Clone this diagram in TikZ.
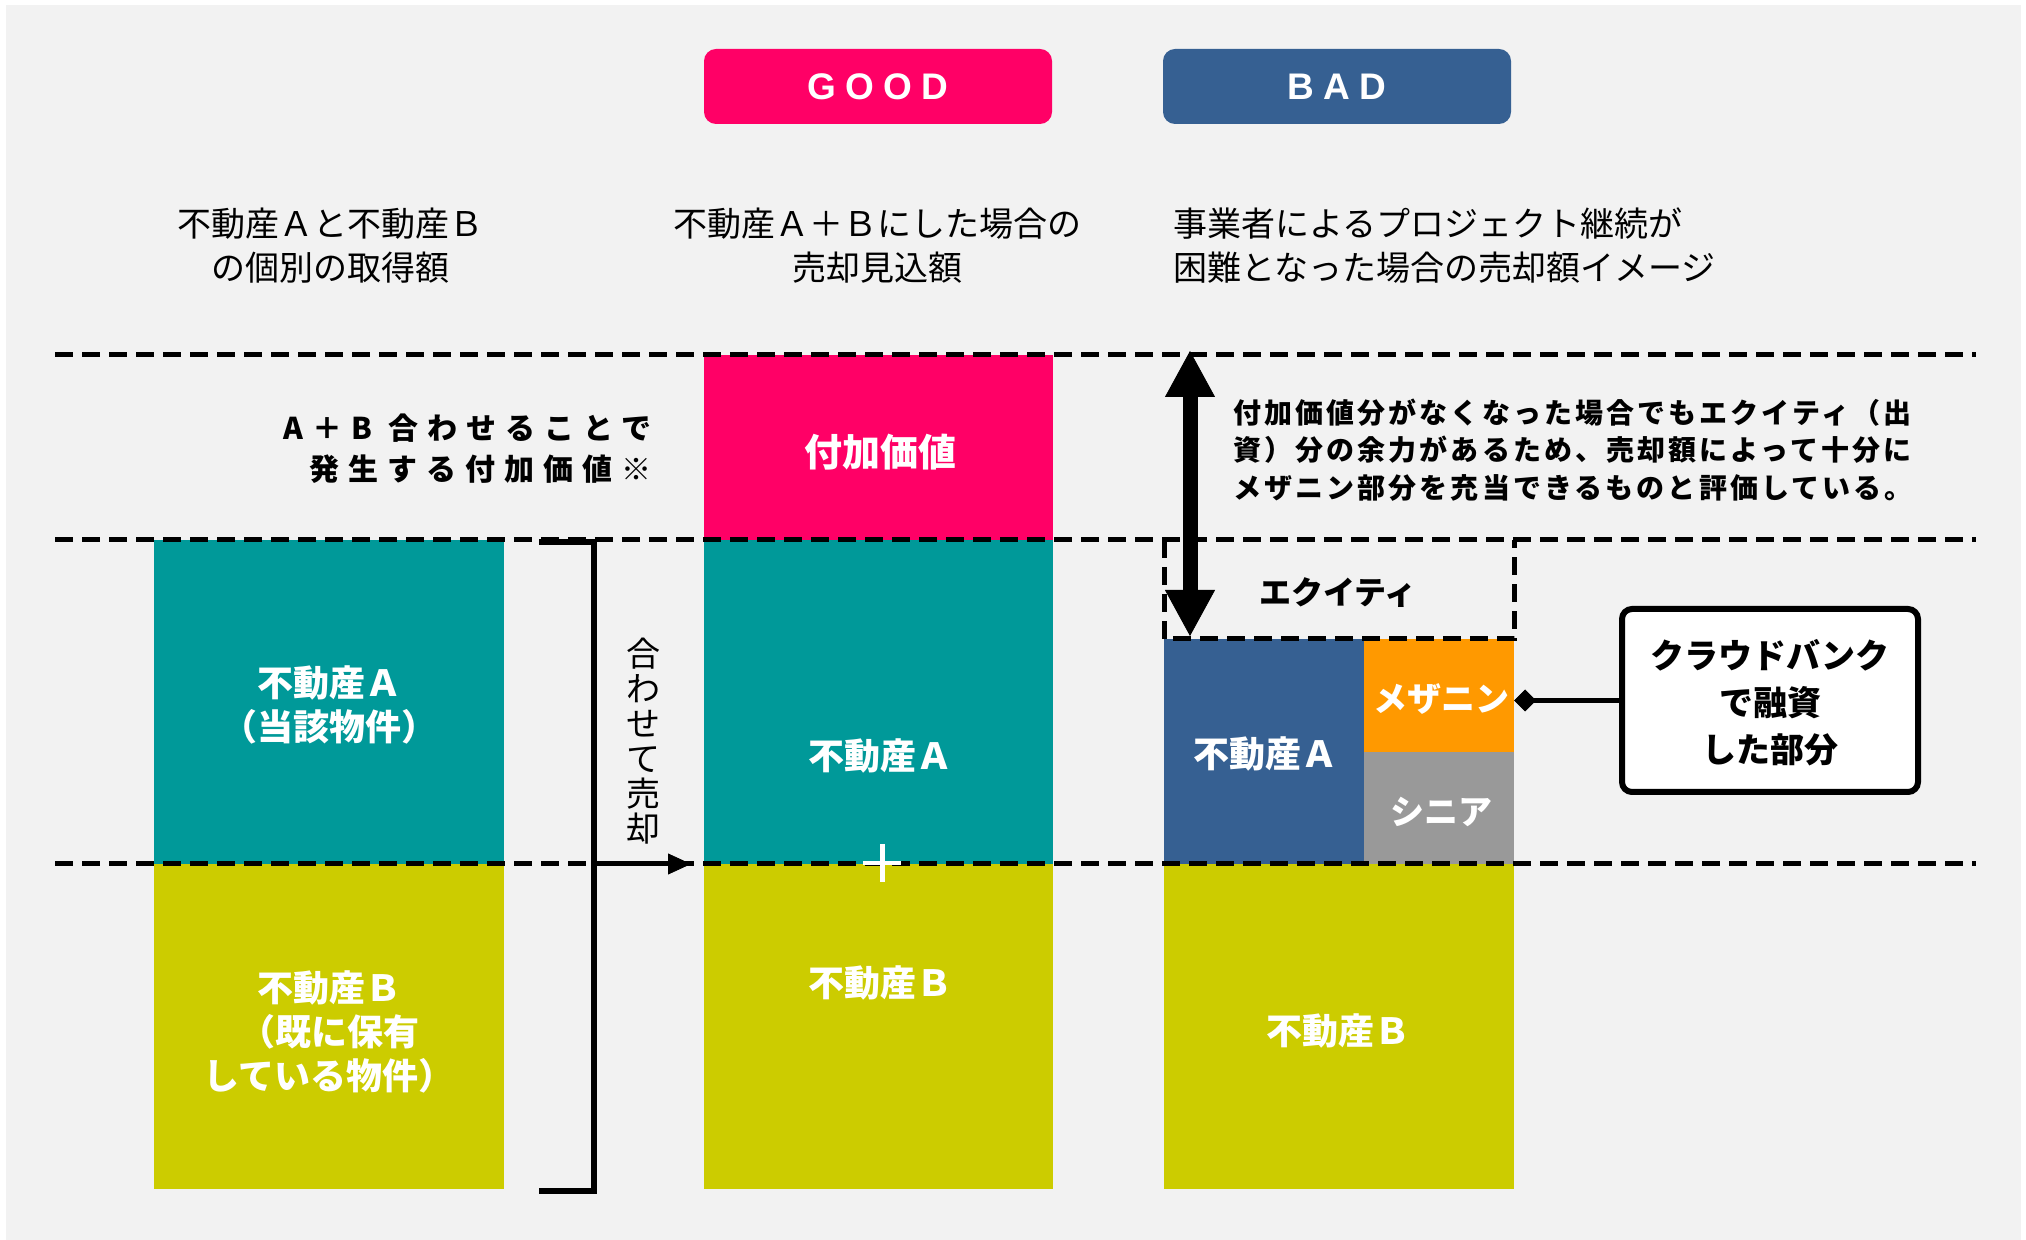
\documentclass[tikz,border=0pt]{standalone}
\usepackage{fontspec}
\setmainfont{Noto Sans CJK JP}
\newfontfamily\latinb{Liberation Sans}
\usetikzlibrary{arrows.meta}
\definecolor{bgc}{HTML}{F2F2F2}
\definecolor{pinkc}{HTML}{FF0066}
\definecolor{tealc}{HTML}{009999}
\definecolor{yelc}{HTML}{CCCC00}
\definecolor{bluec}{HTML}{366092}
\definecolor{orgc}{HTML}{FF9900}
\definecolor{grayc}{HTML}{999999}
\tikzset{
  blk/.style={rectangle, inner sep=0pt, outer sep=0pt, draw=none, anchor=north west},
  btn/.style={rectangle, rounded corners=6pt, inner sep=0pt, minimum width=174pt, minimum height=37.5pt,
    text=white, font=\latinb\bfseries\fontsize{18.5}{18.5}\selectfont\addfontfeature{LetterSpace=25}},
  head/.style={inner sep=0pt, font=\fontsize{17}{22}\selectfont},
  wlab/.style={inner sep=0pt, text=white, align=center, font=\bfseries\fontsize{18}{22}\selectfont},
  dline/.style={line width=2.5pt, dash pattern=on 9pt off 4.5pt},
}
\begin{document}
\begin{tikzpicture}[x=0.5pt,y=-0.5pt]
\useasboundingbox (0,0) rectangle (2026,1240);
\fill[bgc] (6,5) rectangle (2021,1240);

% buttons
\node[btn, fill=pinkc] (goodbtn) at (878,86.5) {GOOD};
\node[btn, fill=bluec] (badbtn) at (1337,86.5) {BAD};

% headings
\node[head, align=center] (h1) at (330,246) {不動産Ａと不動産Ｂ\\の個別の取得額};
\node[head, align=center] (h2) at (877,246) {不動産Ａ＋Ｂにした場合の\\売却見込額};
\node[head, align=left, anchor=west] (h3) at (1173,246) {事業者によるプロジェクト継続が\\困難となった場合の売却額イメージ};

% column 1
\node[blk, fill=tealc, minimum width=175pt, minimum height=162pt] (c1a) at (154,540) {};
\node[blk, fill=yelc, minimum width=175pt, minimum height=162.5pt] (c1b) at (154,864) {};
\node[wlab] (c1al) at (329,705) {不動産Ａ\\（当該物件）};
\node[wlab] (c1bl) at (329,1032) {不動産Ｂ\\（既に保有\\している物件）};

% column 2
\node[blk, fill=pinkc, minimum width=174.5pt, minimum height=92.5pt] (c2p) at (704,355) {};
\node[blk, fill=tealc, minimum width=174.5pt, minimum height=162pt] (c2a) at (704,540) {};
\node[blk, fill=yelc, minimum width=174.5pt, minimum height=162.5pt] (c2b) at (704,864) {};
\node[wlab, font=\bfseries\fontsize{19}{22}\selectfont] (c2pl) at (880,452) {付加価値};
\node[wlab] (c2al) at (880,756) {不動産Ａ};
\node[wlab] (c2bl) at (880,983) {不動産Ｂ};

% column 3
\node[blk, fill=bluec, minimum width=100pt, minimum height=112.5pt] (c3a) at (1164,639) {};
\node[blk, fill=orgc, minimum width=75pt, minimum height=56.5pt] (mezz) at (1364,639) {};
\node[blk, fill=grayc, minimum width=75pt, minimum height=56pt] (sen) at (1364,752) {};
\node[blk, fill=yelc, minimum width=175pt, minimum height=162.5pt] (c3b) at (1164,864) {};
\node[blk, minimum width=175pt, minimum height=49.5pt] (eq) at (1164,540) {};
\node[wlab] (c3al) at (1265,754) {不動産Ａ};
\node[wlab, font=\bfseries\fontsize{17}{20}\selectfont] (mezzl) at (1441,699) {メザニン};
\node[wlab, font=\bfseries\fontsize{17}{20}\selectfont] (senl) at (1441,812) {シニア};
\node[wlab] (c3bl) at (1338,1031) {不動産Ｂ};
\node[inner sep=0pt, font=\bfseries\fontsize{16}{20}\selectfont] (eql) at (1338,593) {エクイティ};

% dashed guide lines
\draw[dline] (55,355) -- (1976,355);
\draw[dline] (55,540) -- (1976,540);
\draw[dline] (55,864) -- (1976,864);
\draw[dline] (eq.north west) -- (eq.south west) -- (eq.south east) -- (eq.north east);

% plus sign
\draw[white, line width=2.5pt] (882,844) -- (882,882);
\draw[white, line width=2pt] (863,863) -- (901,863);

% left annotation
\node[inner sep=0pt, anchor=east, align=right,
  font=\bfseries\fontsize{15}{20.5}\selectfont\addfontfeature{LetterSpace=30}] (addv) at (652,449)
  {A＋B 合わせることで\\発生する付加価値※};

% bracket and arrow
\coordinate (brt) at (539,542);
\coordinate (brb) at (539,1191);
\coordinate (brk) at (594,864);
\coordinate (sellend) at (691,864);
\draw[line width=3pt] (brt) -- (594,542) -- (594,1191) -- (brb);
\draw[line width=2.5pt, -{Triangle[length=11.5pt,width=10.5pt,line width=0.4pt]}] (brk) -- (sellend);
\node[inner sep=0pt, align=center, font=\fontsize{17}{17.5}\selectfont] (sell) at (643,741)
  {合\\わ\\せ\\て\\売\\却};

% double arrow
\coordinate (dat) at (1190,351);
\coordinate (dab) at (1190,636);
\draw[line width=7.5pt, {Triangle[length=23pt,width=25pt,line width=0.4pt]}-{Triangle[length=23pt,width=25pt,line width=0.4pt]}] (dat) -- (dab);

% right annotation
\node[inner sep=0pt, anchor=west, align=left,
  font=\bfseries\fontsize{14}{18.75}\selectfont\addfontfeature{LetterSpace=11}] (note) at (1233,450)
  {付加価値分がなくなった場合でもエクイティ（出\\資）分の余力があるため、売却額によって十分に\\メザニン部分を充当できるものと評価している。};

% callout
\node[draw=black, line width=3pt, fill=white, rounded corners=5pt, minimum width=148pt, minimum height=91.5pt, inner sep=0pt] (callout) at (1770,700.5) {};
\node[inner sep=0pt, align=center, font=\bfseries\fontsize{17}{23.5}\selectfont] (calloutl) at (1770,703) {クラウドバンク\\で融資\\した部分};
\draw[line width=2.5pt, -{Diamond[length=11pt,width=11pt,line width=0.4pt]}] (callout.west) -- (mezz.east |- callout.west);
\end{tikzpicture}
\end{document}
